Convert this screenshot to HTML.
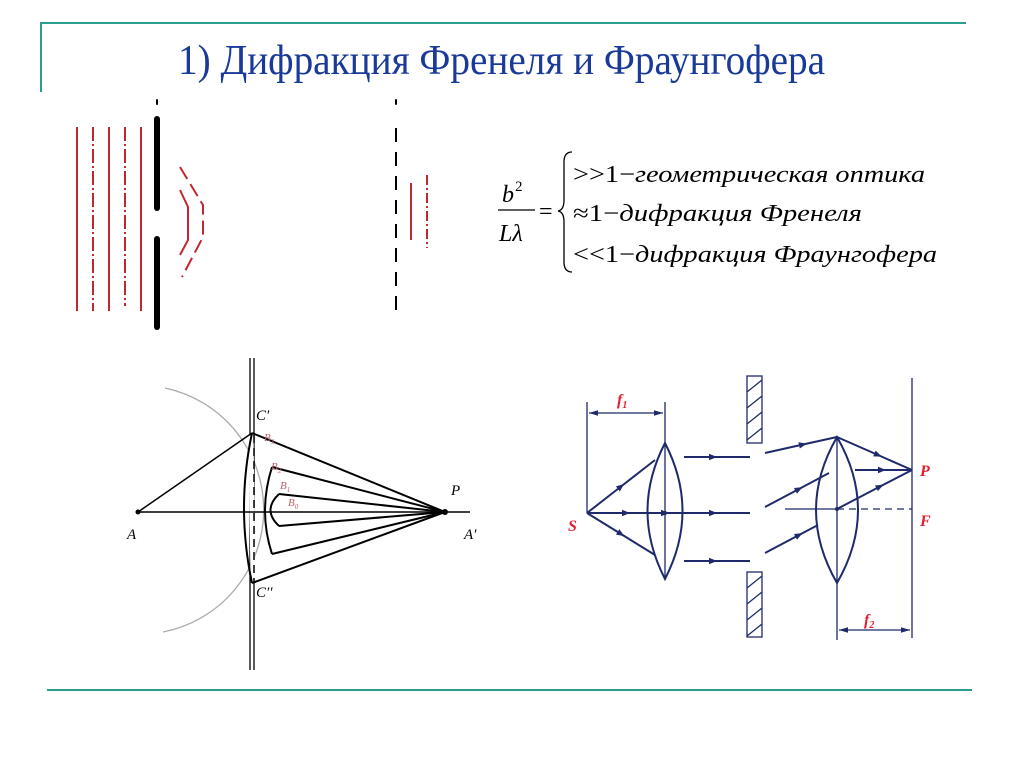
<!DOCTYPE html>
<html><head><meta charset="utf-8"><style>
body{margin:0;background:#fff;width:1024px;height:767px;overflow:hidden}
svg{display:block}
</style></head><body>
<svg width="1024" height="767" viewBox="0 0 1024 767" xmlns="http://www.w3.org/2000/svg">
<defs>
<marker id="ar" viewBox="0 0 10 10" refX="5" refY="5" markerWidth="4" markerHeight="4" orient="auto"><path d="M0,1 L10,5 L0,9 z" fill="#1f2a6b"/></marker>
<marker id="da" viewBox="0 0 10 10" refX="10" refY="5" markerWidth="7" markerHeight="7" orient="auto-start-reverse"><path d="M0,2 L10,5 L0,8 z" fill="#1f2a6b"/></marker>
</defs>
<line x1="40" y1="23" x2="966" y2="23" stroke="#2a9d8f" stroke-width="2"/>
<line x1="41" y1="22" x2="41" y2="92" stroke="#2a9d8f" stroke-width="2"/>
<line x1="47" y1="690" x2="972" y2="690" stroke="#2a9d8f" stroke-width="2"/>
<text x="178" y="74" font-family="Liberation Serif, serif" font-size="42" fill="#1a3a9a" textLength="647" lengthAdjust="spacingAndGlyphs">1) Дифракция Френеля и Фраунгофера</text>

<g stroke="#c0282f" stroke-width="2" fill="none">
<line x1="77" y1="127" x2="77" y2="311"/>
<line x1="93" y1="127" x2="93" y2="311" stroke-dasharray="14,3,2,3"/>
<line x1="109" y1="127" x2="109" y2="311"/>
<line x1="125" y1="127" x2="125" y2="306" stroke-dasharray="14,3,2,3"/>
<line x1="141" y1="127" x2="141" y2="311"/>
<polyline points="180,190 188,207 188,240 180,255"/>
<polyline points="180,167 203,205 203,237 182,277" stroke-dasharray="14,6"/>
<line x1="411" y1="183" x2="411" y2="240"/>
<line x1="427" y1="175" x2="427" y2="248" stroke-dasharray="10,3,2,3"/>
</g>
<g stroke="#000" stroke-linecap="round">
<line x1="157" y1="119" x2="157" y2="208" stroke-width="6"/>
<line x1="157" y1="239" x2="157" y2="327" stroke-width="6"/>
<line x1="157" y1="100" x2="157" y2="104" stroke-width="2"/>
<line x1="396" y1="100" x2="396" y2="104" stroke-width="2"/>
</g>
<line x1="396" y1="128" x2="396" y2="320" stroke="#000" stroke-width="2" stroke-dasharray="14,10"/>

<g font-family="Liberation Serif, serif" fill="#000">
<text x="502" y="202" font-size="24" font-style="italic">b</text>
<text x="515" y="191" font-size="15">2</text>
<line x1="498" y1="210" x2="535" y2="210" stroke="#000" stroke-width="1.3"/>
<text x="499" y="241" font-size="24" font-style="italic">Lλ</text>
<text x="539" y="219" font-size="24">=</text>
<path d="M572,152 Q564,152 564,162 L564,200 Q564,210 558,211 Q564,212 564,222 L564,262 Q564,272 572,272" stroke="#000" stroke-width="1.3" fill="none"/>
<text x="573" y="182" font-size="24" textLength="352" lengthAdjust="spacingAndGlyphs">&gt;&gt;1−<tspan font-style="italic">геометрическая оптика</tspan></text>
<text x="573" y="221" font-size="24" textLength="289" lengthAdjust="spacingAndGlyphs">≈1−<tspan font-style="italic">дифракция Френеля</tspan></text>
<text x="573" y="262" font-size="24" textLength="364" lengthAdjust="spacingAndGlyphs">&lt;&lt;1−<tspan font-style="italic">дифракция Фраунгофера</tspan></text>
</g>

<path d="M165,388 A124.5,124.5 0 0 1 163,632" stroke="#aaa" stroke-width="1.3" fill="none"/>
<line x1="250" y1="358" x2="250" y2="670" stroke="#000" stroke-width="1.3"/>
<line x1="254" y1="358" x2="254" y2="670" stroke="#000" stroke-width="1.3"/>
<line x1="251" y1="434" x2="253" y2="581" stroke="#fff" stroke-width="5"/>
<g stroke="#000" stroke-width="2" fill="none">
<line x1="138" y1="512" x2="470" y2="512" stroke-width="1.5"/>
<line x1="138" y1="512" x2="252" y2="433" stroke-width="1.5"/>
<path d="M252,433 Q236,508 252,583"/>
<line x1="254" y1="435" x2="254" y2="581" stroke-dasharray="8,5" stroke-width="1.5"/>
<path d="M272,467 Q258,511 272,554"/>
<path d="M279,494 Q262,510 279,526"/>
<line x1="252" y1="433" x2="445" y2="512"/>
<line x1="252" y1="583" x2="445" y2="512"/>
<line x1="272" y1="467" x2="445" y2="512"/>
<line x1="272" y1="554" x2="445" y2="512"/>
<line x1="279" y1="494" x2="445" y2="512"/>
<line x1="279" y1="526" x2="445" y2="512"/>
</g>
<circle cx="138" cy="512" r="2.5" fill="#000"/>
<circle cx="445" cy="512" r="3" fill="#000"/>
<g font-family="Liberation Serif, serif" font-style="italic" font-size="15" fill="#000">
<text x="127" y="539">A</text><text x="464" y="539">A′</text>
<text x="451" y="495">P</text>
<text x="256" y="420">C′</text><text x="256" y="597">C′′</text>
</g>
<g font-family="Liberation Serif, serif" font-style="italic" font-size="11" fill="#c0606a">
<text x="264" y="441">B<tspan font-size="7" dy="3">3</tspan></text>
<text x="271" y="470">B<tspan font-size="7" dy="3">2</tspan></text>
<text x="280" y="489">B<tspan font-size="7" dy="3">1</tspan></text>
<text x="288" y="506">B<tspan font-size="7" dy="3">0</tspan></text>
</g>

<g stroke="#1f2a6b" fill="none" stroke-width="1.3">
<line x1="587" y1="402" x2="587" y2="513"/>
<line x1="665" y1="402" x2="665" y2="579"/>
<line x1="589" y1="413" x2="663" y2="413" marker-start="url(#da)" marker-end="url(#da)"/>
<path d="M665,443 Q630,511 665,579 Q700,511 665,443 z" stroke-width="2"/>
<rect x="747" y="376" width="15" height="67"/>
<rect x="747" y="572" width="15" height="65"/>
<path d="M747,392 L762,380 M747,408 L762,396 M747,424 L762,412 M747,440 L762,428 M747,588 L762,576 M747,604 L762,592 M747,620 L762,608 M747,636 L762,624"/>
<line x1="785" y1="509" x2="837" y2="509"/>
<line x1="837" y1="509" x2="912" y2="509" stroke-dasharray="7,5"/>
<line x1="837" y1="437" x2="837" y2="640"/>
<line x1="912" y1="378" x2="912" y2="638"/>
<path d="M837,437 Q795,510 837,583 Q879,510 837,437 z" stroke-width="2"/>
<line x1="839" y1="630" x2="910" y2="630" marker-start="url(#da)" marker-end="url(#da)"/>
</g>
<g stroke="#1f2a6b" fill="none" stroke-width="2" marker-mid="url(#ar)">
<polyline points="587,513 621,486.5 655,460"/>
<polyline points="587,513 621,534 655,555"/>
<polyline points="587,513 626,513 665,513 713,513 750,513"/>
<polyline points="684,457 713,457 750,457"/>
<polyline points="684,561 713,561 750,561"/>
<polyline points="765,453 803,444.5 837,437"/>
<polyline points="837,437 878,455 912,470"/>
<polyline points="765,507 799,489 829,473"/>
<polyline points="765,553 799,535 818,525"/>
<polyline points="855,470 882,470 912,470"/>
<polyline points="837,509 880,486.5 912,470"/>
</g>
<circle cx="665" cy="513" r="2" fill="#1f2a6b"/>
<circle cx="837" cy="509" r="2" fill="#1f2a6b"/>
<g font-family="Liberation Serif, serif" font-style="italic" font-weight="bold" fill="#e02030">
<text x="617" y="405" font-size="16">f<tspan font-size="10" dy="3">1</tspan></text>
<text x="864" y="625" font-size="16">f<tspan font-size="10" dy="3">2</tspan></text>
<text x="568" y="531" font-size="16">S</text>
<text x="920" y="476" font-size="16">P</text>
<text x="920" y="526" font-size="16">F</text>
</g>
</svg>
</body></html>
